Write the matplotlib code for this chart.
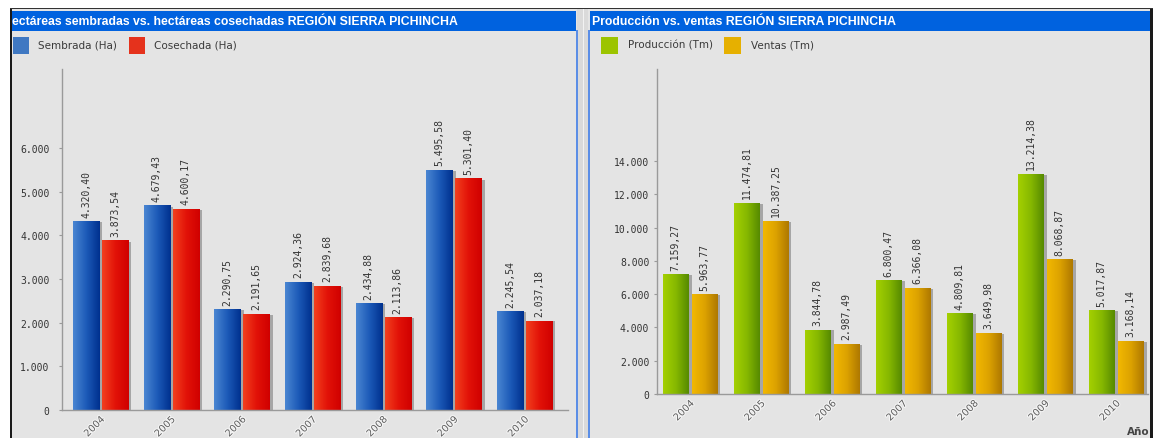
import matplotlib.pyplot as plt
import numpy as np
from matplotlib.patches import Rectangle
from matplotlib.colors import LinearSegmentedColormap
from matplotlib.transforms import ScaledTranslation
import matplotlib.patheffects as pe

years = ['2004', '2005', '2006', '2007', '2008', '2009', '2010']
sembrada = [4320.40, 4679.43, 2290.75, 2924.36, 2434.88, 5495.58, 2245.54]
cosechada = [3873.54, 4600.17, 2191.65, 2839.68, 2113.86, 5301.40, 2037.18]
produccion = [7159.27, 11474.81, 3844.78, 6800.47, 4809.81, 13214.38, 5017.87]
ventas = [5963.77, 10387.25, 2987.49, 6366.08, 3649.98, 8068.87, 3168.14]

W, H = 1161, 439
PANEL = '#e4e4e4'
TITLE_BLUE = '#0062df'

fig = plt.figure(figsize=(W / 100, H / 100), dpi=100)
fig.patch.set_facecolor('white')


def box(x, y, w, h, z=-5, **kw):
    # rectangle in pixel coords, measured from the top-left corner
    fig.add_artist(Rectangle((x / W, 1 - (y + h) / H), w / W, h / H,
                             transform=fig.transFigure, lw=0, zorder=z, **kw))


def ftext(x, y, s, **kw):
    fig.text(x / W, 1 - y / H, s, va='center', **kw)


# panels, borders and title bars
box(10, 9, 1143, 1.5, fc='#333333')
box(10, 10, 567, 430, fc=PANEL)
box(577, 10, 11, 430, fc='#dadada')
box(583, 10, 1, 430, fc='#f2f2f2')
box(588, 10, 562, 430, fc=PANEL)
box(10, 10, 2, 430, fc='#1a1a1a')
box(1150, 10, 2.5, 430, fc='#1a1a1a')
box(576, 31, 1.5, 410, fc='#5b8ee6')
box(588, 31, 1.5, 410, fc='#5b8ee6')
box(12, 12, 564, 19.5, fc=TITLE_BLUE)
box(589.5, 12, 560, 19.5, fc=TITLE_BLUE)

title_kw = dict(color='white', fontweight='bold', fontsize=8.85, family='Liberation Sans')
ftext(12, 22, 'ectáreas sembradas vs. hectáreas cosechadas REGIÓN SIERRA PICHINCHA', **title_kw)
ftext(592, 22, 'Producción vs. ventas REGIÓN SIERRA PICHINCHA', **title_kw)

# legends
leg_kw = dict(fontsize=7.5, color='#3a3a3a', family='DejaVu Sans')
box(13, 37.5, 16, 17, z=1, fc='#3f78c2', ec='#1d3f80')
ftext(38, 45.5, 'Sembrada (Ha)', **leg_kw)
box(128.5, 37.5, 16.5, 17, z=1, fc='#e5321c', ec='#8a1000')
ftext(154, 45.5, 'Cosechada (Ha)', **leg_kw)
box(601, 38, 17, 17, z=1, fc='#9cc400', ec='#5b7400')
ftext(628, 45.5, 'Producción (Tm)', **leg_kw)
box(724, 38, 17, 17, z=1, fc='#e6b000', ec='#8e6400')
ftext(751, 45.5, 'Ventas (Tm)', **leg_kw)

cm_blue = LinearSegmentedColormap.from_list('b', ['#4a86d2', '#1c5ab8', '#00308e'])
cm_red = LinearSegmentedColormap.from_list('r', ['#f2401e', '#e21208', '#d00000'])
cm_green = LinearSegmentedColormap.from_list('g', ['#a4d000', '#86b800', '#568a00'])
cm_yellow = LinearSegmentedColormap.from_list('y', ['#f2b800', '#dca200', '#ae7800'])
grad = np.linspace(0, 1, 64).reshape(1, -1)


def fmt_val(v):
    return f'{v:,.2f}'.replace(',', '#').replace('.', ',').replace('#', '.')


def fmt_tick(v, pos=None):
    return f'{int(v):,}'.replace(',', '.')


def draw_bars(ax, values, offset, width, cmap):
    for i, v in enumerate(values):
        x0 = i + offset - width / 2
        # soft drop shadow to the right of the bar
        ax.add_patch(Rectangle((x0 + width, 0), 0.045, v * 0.995,
                               fc='#a6a6a6', lw=0, zorder=1))
        ax.imshow(grad, cmap=cmap, extent=[x0, x0 + width, 0, v],
                  aspect='auto', zorder=2, interpolation='bilinear')
        ax.annotate(fmt_val(v), (i + offset, v), xytext=(0, 3.5),
                    textcoords='offset points', rotation=90, ha='center',
                    va='bottom', fontsize=7, family='DejaVu Sans Mono',
                    color='#333333')


def style_axes(ax, xlim, ylim, yticks, ypad):
    ax.set_facecolor('none')
    ax.set_xlim(*xlim)
    ax.set_ylim(*ylim)
    for s in ('top', 'right'):
        ax.spines[s].set_visible(False)
    for s in ('left', 'bottom'):
        ax.spines[s].set_color('#9a9a9a')
        ax.spines[s].set_linewidth(1)
    ax.set_yticks(yticks)
    ax.yaxis.set_major_formatter(plt.FuncFormatter(fmt_tick))
    ax.tick_params(axis='y', length=2.5, color='#9a9a9a', pad=ypad,
                   labelsize=7, labelcolor='#333333')
    for lab in ax.get_yticklabels():
        lab.set_family('DejaVu Sans Mono')
    ax.set_xticks(range(len(years)))
    ax.set_xticklabels(years, rotation=45, ha='right', fontsize=7,
                       color='#5e5e5e', family='DejaVu Sans')
    ax.tick_params(axis='x', length=0, pad=3)
    shift = ScaledTranslation(6 / 100, 0, fig.dpi_scale_trans)
    for lab in ax.get_xticklabels():
        lab.set_transform(lab.get_transform() + shift)
        lab.set_path_effects([pe.withStroke(linewidth=1.6, foreground='#f4f4f4')])


# left chart: hectares
axL = fig.add_axes([62 / W, 1 - 411 / H, 506 / W, 341 / H])
draw_bars(axL, sembrada, -0.205, 0.37, cm_blue)
draw_bars(axL, cosechada, 0.205, 0.37, cm_red)
style_axes(axL, (-0.545, 6.616), (0, 7810), range(0, 7000, 1000), 6.5)

# right chart: tonnes
axR = fig.add_axes([657 / W, 1 - 395 / H, 491 / W, 325 / H])
draw_bars(axR, produccion, -0.204, 0.36, cm_green)
draw_bars(axR, ventas, 0.204, 0.36, cm_yellow)
style_axes(axR, (-0.465, 6.45), (0, 19530), range(0, 16000, 2000), 3)

ftext(1127, 432, 'Año', fontsize=7.5, fontweight='bold', color='#444444')

fig.savefig('out.png', dpi=100)
